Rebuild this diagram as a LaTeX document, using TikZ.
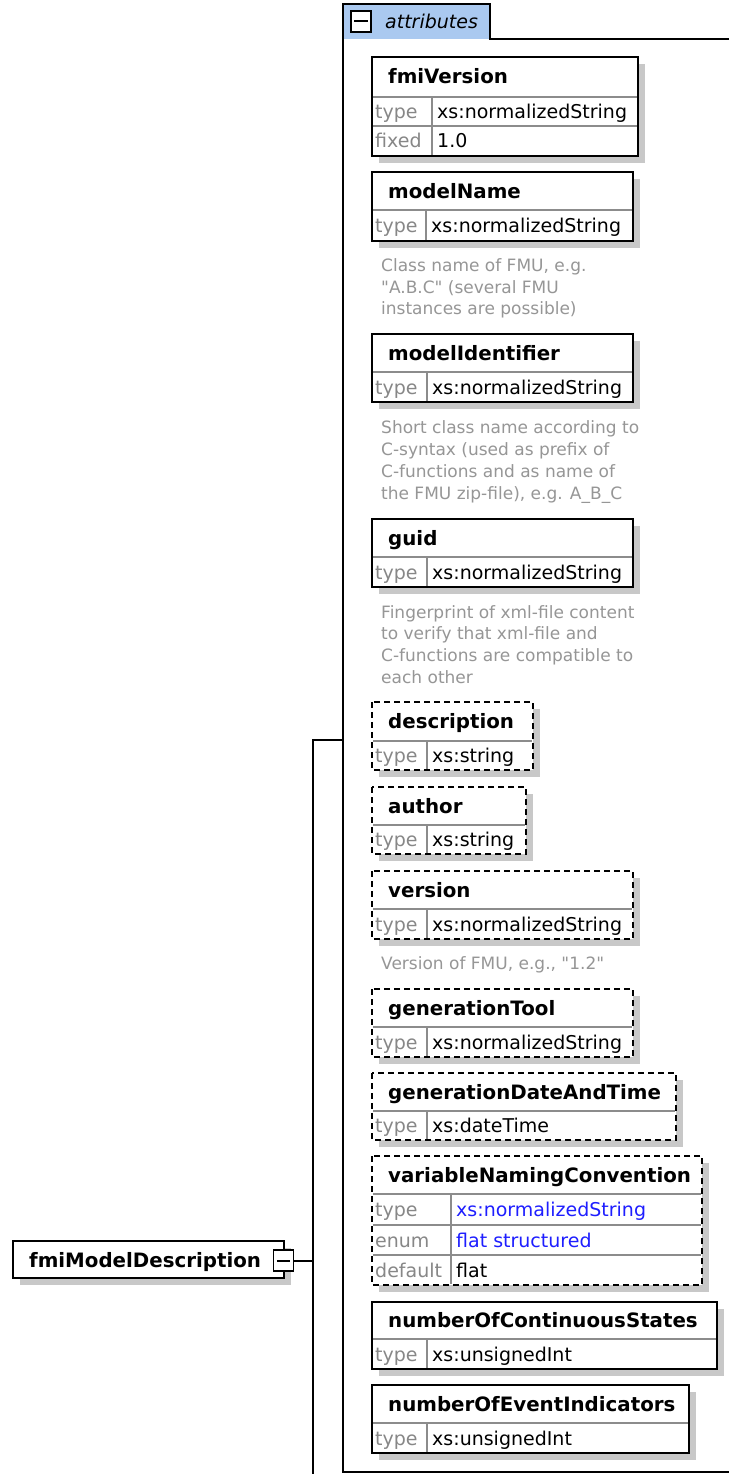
\documentclass[tikz,border=0pt]{standalone}
\usepackage{fontspec}
\setmainfont{DejaVu Sans}[Ligatures=TeXOff]
\definecolor{shadowgray}{RGB}{200,200,200}
\definecolor{innergray}{RGB}{140,140,140}
\definecolor{labgray}{RGB}{135,135,135}
\definecolor{descgray}{RGB}{150,150,150}
\definecolor{tabblue}{RGB}{170,201,240}
\definecolor{valblue}{RGB}{30,30,255}
\tikzset{
  frame/.style={draw=black,line width=2pt},
  dashframe/.style={draw=black,line width=2pt,dash pattern=on 6pt off 4pt},
  innerln/.style={draw=innergray,line width=1.5pt},
  conn/.style={draw=black,line width=2pt},
  titletext/.style={font=\fontsize{19.8}{22}\selectfont\bfseries,inner sep=0pt,anchor=base west},
  labtext/.style={font=\fontsize{19}{22}\selectfont,text=labgray,inner sep=0pt,anchor=base west},
  valtext/.style={font=\fontsize{19}{22}\selectfont,inner sep=0pt,anchor=base west},
  desctext/.style={font=\fontsize{17}{20}\selectfont,text=descgray,inner sep=0pt,anchor=base west},
  minusbox/.style={draw=black,fill=white,line width=1.5pt,minimum width=20pt,minimum height=21pt,inner sep=0pt},
}
% #1 id, #2 frame style, #3 x1, #4 y1, #5 x2, #6 y2, #7 header bottom, #8 split x, #9 title
\newcommand\attrbox[9]{%
  \fill[shadowgray] ({#3+7},{#4+7}) rectangle ({#5+7},{#6+7});
  \fill[white] (#3,#4) rectangle (#5,#6);
  \draw[innerln] ({#3+1},#7) -- ({#5-1},#7);
  \draw[innerln] (#8,#7) -- (#8,{#6-1});
  \node[titletext] (#1) at ({#3+16},{(#4+#7)/2+7}) {#9};
  \draw[#2] (#3,#4) rectangle (#5,#6);
}
% #1 id, #2 x1, #3 split, #4 ytop, #5 ybot, #6 label, #7 value
\newcommand\attrrow[7]{%
  \node[labtext] (#1l) at ({#2+3},{(#4+#5)/2+7}) {#6};
  \node[valtext] (#1v) at ({#3+5},{(#4+#5)/2+7}) {#7};
}
\newcommand\rowline[3]{\draw[innerln] ({#1+1},#3) -- ({#2-1},#3);}
\begin{document}
\begin{tikzpicture}[x=1pt,y=-1pt]
\useasboundingbox (0,0) rectangle (729,1474);
\fill[white] (0,0) rectangle (729,1474);

% container with tab
\fill[tabblue] (343,4) rectangle (490,39);
\draw[conn] (729,39) -- (490,39) -- (490,4) -- (343,4) -- (343,1472) -- (729,1472);
\node[minusbox] (tabm) at (361,21.5) {};
\draw[line width=2pt] ([xshift=4pt]tabm.west) -- ([xshift=-4pt]tabm.east);
\node[font=\fontsize{19}{22}\selectfont\itshape,inner sep=0pt,anchor=base west] (attrs) at (385,29) {attributes};

% root element
\fill[shadowgray] (20,1248) rectangle (291,1285);
\fill[white] (13,1241) rectangle (284,1278);
\draw[frame] (13,1241) rectangle (284,1278);
\node[titletext] (fmd) at (29,1267) {fmiModelDescription};
\node[minusbox] (fmdm) at (283.5,1260.5) {};
\draw[line width=2pt] ([xshift=4pt]fmdm.west) -- ([xshift=-4pt]fmdm.east);

% connectors
\coordinate (j1) at (313,1260.5);
\coordinate (j2) at (313,740);
\coordinate (jb) at (313,1474);
\coordinate (ja) at (343,740);
\draw[conn] (fmdm.east) -- (j1);
\draw[conn] (jb) -- (j2) -- (ja);

% fmiVersion
\attrbox{fv}{frame}{372}{57}{638}{156}{97}{432}{fmiVersion}
\rowline{372}{638}{126}
\attrrow{fva}{372}{432}{97}{126}{type}{xs:normalizedString}
\attrrow{fvb}{372}{432}{126}{156}{fixed}{1.0}

% modelName
\attrbox{mn}{frame}{372}{172}{633}{241}{210}{426}{modelName}
\attrrow{mna}{372}{426}{210}{241}{type}{xs:normalizedString}
\node[desctext] (mnd1) at (381,271) {Class name of FMU, e.g.};
\node[desctext] (mnd2) at (381,293) {"A.B.C" (several FMU};
\node[desctext] (mnd3) at (381,314) {instances are possible)};

% modelIdentifier
\attrbox{mi}{frame}{372}{334}{633}{402}{372}{427}{modelIdentifier}
\attrrow{mia}{372}{427}{372}{402}{type}{xs:normalizedString}
\node[desctext] (mid1) at (381,433) {Short class name according to};
\node[desctext] (mid2) at (381,455) {C-syntax (used as prefix of};
\node[desctext] (mid3) at (381,477) {C-functions and as name of};
\node[desctext] (mid4) at (381,499) {the FMU zip-file), e.g. A\_B\_C};

% guid
\attrbox{gu}{frame}{372}{519}{633}{587}{557}{427}{guid}
\attrrow{gua}{372}{427}{557}{587}{type}{xs:normalizedString}
\node[desctext] (gud1) at (381,618) {Fingerprint of xml-file content};
\node[desctext] (gud2) at (381,639) {to verify that xml-file and};
\node[desctext] (gud3) at (381,661) {C-functions are compatible to};
\node[desctext] (gud4) at (381,683) {each other};

% description
\attrbox{de}{dashframe}{372}{702}{533}{770}{741}{427}{description}
\attrrow{dea}{372}{427}{741}{770}{type}{xs:string}

% author
\attrbox{au}{dashframe}{372}{787}{526}{854}{825}{427}{author}
\attrrow{aua}{372}{427}{825}{854}{type}{xs:string}

% version
\attrbox{ve}{dashframe}{372}{871}{633}{939}{909}{427}{version}
\attrrow{vea}{372}{427}{909}{939}{type}{xs:normalizedString}
\node[desctext] (ved1) at (381,969) {Version of FMU, e.g., "1.2"};

% generationTool
\attrbox{gt}{dashframe}{372}{989}{633}{1057}{1027}{427}{generationTool}
\attrrow{gta}{372}{427}{1027}{1057}{type}{xs:normalizedString}

% generationDateAndTime
\attrbox{gd}{dashframe}{372}{1073}{676}{1140}{1111}{427}{generationDateAndTime}
\attrrow{gda}{372}{427}{1111}{1140}{type}{xs:dateTime}

% variableNamingConvention
\attrbox{vn}{dashframe}{372}{1156}{702}{1285}{1194}{451}{variableNamingConvention}
\rowline{372}{702}{1225}
\rowline{372}{702}{1255}
\attrrow{vna}{372}{451}{1194}{1225}{type}{\textcolor{valblue}{xs:normalizedString}}
\attrrow{vnb}{372}{451}{1225}{1255}{enum}{\textcolor{valblue}{flat structured}}
\attrrow{vnc}{372}{451}{1255}{1285}{default}{flat}

% numberOfContinuousStates
\attrbox{nc}{frame}{372}{1302}{717}{1369}{1339}{427}{numberOfContinuousStates}
\attrrow{nca}{372}{427}{1339}{1369}{type}{xs:unsignedInt}

% numberOfEventIndicators
\attrbox{ne}{frame}{372}{1385}{689}{1453}{1423}{427}{numberOfEventIndicators}
\attrrow{nea}{372}{427}{1423}{1453}{type}{xs:unsignedInt}
\end{tikzpicture}
\end{document}
